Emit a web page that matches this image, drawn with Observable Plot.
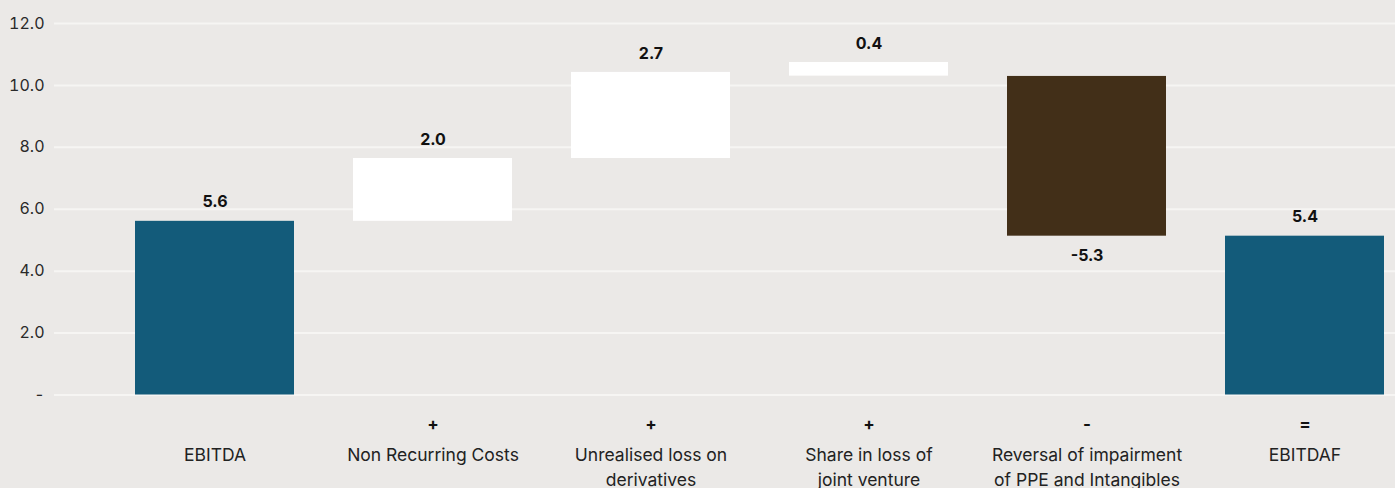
<!DOCTYPE html>
<html><head><meta charset="utf-8">
<script src="https://cdn.jsdelivr.net/npm/d3@7"></script>
<script src="https://cdn.jsdelivr.net/npm/@observablehq/plot@0.6"></script>
<style>
html,body{margin:0;padding:0;background:#ebe9e7;}
#chart{width:1395px;height:488px;overflow:hidden;}
</style></head><body><div id="chart"></div>
<script>
const categories = ["EBITDA", "Non Recurring Costs", "Unrealised loss on\nderivatives", "Share in loss of\njoint venture", "Reversal of impairment\nof PPE and Intangibles", "EBITDAF"];
const operators = ["", "+", "+", "+", "-", "="];
const barStart = [0, 5.61, 7.64, 10.30, 10.29, 0];
const barEnd = [5.61, 7.64, 10.42, 10.74, 5.13, 5.13];
const valueLabels = ["5.6", "2.0", "2.7", "0.4", "-5.3", "5.4"];
const barColors = ["#135b7a", "#ffffff", "#ffffff", "#ffffff", "#422f18", "#135b7a"];
const yTicks = [0, 2, 4, 6, 8, 10, 12];

const rows = categories.map((c, i) => ({
  cat: c, op: operators[i], y1: barStart[i], y2: barEnd[i],
  label: valueLabels[i], color: barColors[i], down: barEnd[i] < barStart[i]
}));

const chart = Plot.plot({
  width: 1395, height: 488,
  marginLeft: 54, marginRight: 0, marginTop: 23, marginBottom: 93.5,
  style: {background: "transparent", fontFamily: "Inter, 'Noto Sans', sans-serif", fontSize: "16px", color: "#2a2a2a"},
  x: {domain: categories, paddingInner: 0.27, paddingOuter: 0.2106, align: 0.886, axis: null},
  y: {domain: [0, 12], ticks: yTicks, tickFormat: d => d === 0 ? "-" : d.toFixed(1), tickSize: 0, tickPadding: 10, label: null},
  color: {type: "identity"},
  marks: [
    Plot.ruleY(yTicks, {stroke: "#f6f5f3", strokeWidth: 2}),
    Plot.barY(rows, {x: "cat", y1: "y1", y2: "y2", fill: "color"}),
    Plot.text(rows.filter(d => !d.down), {x: "cat", y: "y2", text: "label", dy: -19, fontWeight: "bold", fontSize: 16, fill: "#111"}),
    Plot.text(rows.filter(d => d.down), {x: "cat", y: "y2", text: "label", dy: 20, fontWeight: "bold", fontSize: 16, fill: "#111"}),
    Plot.text(rows, {x: "cat", text: "op", frameAnchor: "bottom", dy: 35, fontWeight: "bold", fontSize: 17, fill: "#111"}),
    Plot.text(rows, {x: "cat", text: "cat", frameAnchor: "bottom", lineAnchor: "top", lineHeight: 1.43, dy: 48.4, fontSize: 17.5, fill: "#222"})
  ]
});
document.getElementById("chart").appendChild(chart);
</script>
</body></html>
